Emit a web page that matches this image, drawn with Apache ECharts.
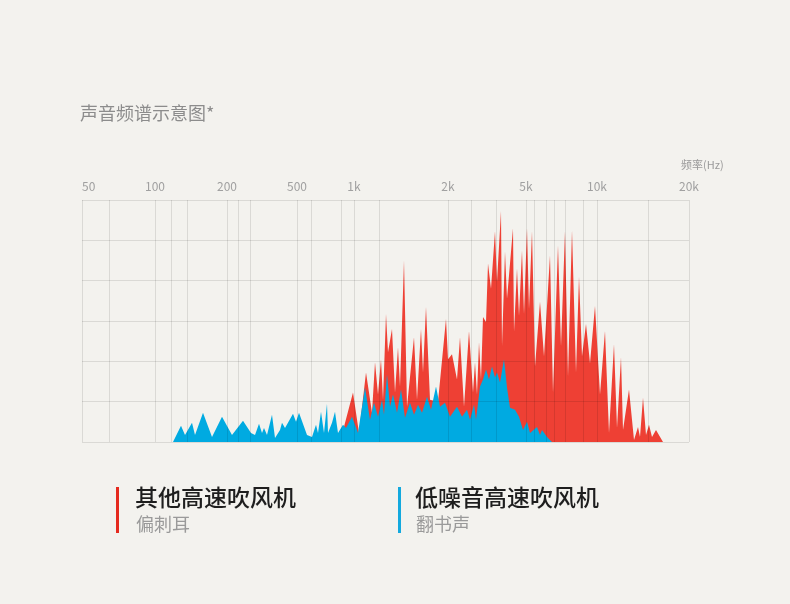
<!DOCTYPE html>
<html>
<head>
<meta charset="utf-8">
<script src="https://cdn.jsdelivr.net/npm/echarts@6/dist/echarts.min.js"></script>
<style>
  html, body { margin: 0; padding: 0; background: #f3f2ee; }
  #chart { width: 790px; height: 604px; }
</style>
</head>
<body>
<div id="chart"></div>
<script>
// position along the band (0 = left edge, 607 = right edge), level above the floor
var tickLabels = ['50', '100', '200', '500', '1k', '2k', '5k', '10k', '20k'];
var tickPos = [0, 73, 145, 215, 272, 366, 444, 515, 607];
var gridPos = [0, 27, 73, 89, 105, 145, 156, 168, 215, 229, 259, 272, 297,
  366, 389, 414, 444, 452, 464, 472, 483, 501, 515, 566, 607];

var seriesNames = ['其他高速吹风机', '低噪音高速吹风机'];
var seriesNotes = ['偏刺耳', '翻书声'];

var redPos = [258, 271, 277, 284, 290, 293, 296, 299, 301, 304, 306, 310, 313, 316, 318,
  322, 325, 332, 335, 339, 341, 344, 348, 356, 364, 366, 370, 375, 378, 382, 387, 391,
  393, 395, 397, 399, 401, 404, 406, 409, 413, 415, 419, 420, 423, 425, 431, 432, 435,
  437, 440, 442, 445, 447, 450, 453, 458, 462, 468, 471, 476, 479, 483, 486, 490, 494,
  497, 500, 504, 508, 513, 518, 523, 527, 532, 535, 539, 541, 547, 552, 556, 558, 561,
  564, 567, 570, 574, 581];
var redLevel = [0, 49, 9, 69, 29, 79, 47, 82, 42, 127, 89, 112, 49, 94, 55,
  180, 35, 104, 42, 112, 69, 134, 42, 40, 122, 82, 87, 62, 104, 35, 110, 49,
  79, 47, 99, 62, 124, 119, 177, 152, 209, 159, 229, 95, 189, 142, 212, 109, 172,
  125, 190, 127, 212, 132, 209, 75, 139, 85, 185, 49, 195, 95, 209, 65, 210, 69,
  164, 85, 117, 78, 135, 47, 110, 9, 97, 14, 84, 12, 52, 2, 15, 5, 44,
  7, 17, 5, 12, 0];

var bluePos = [91, 99, 103, 110, 113, 121, 130, 140, 150, 161, 169, 173, 177, 180, 182,
  185, 190, 193, 198, 200, 203, 211, 214, 217, 225, 230, 234, 236, 239, 242, 245, 246,
  250, 253, 256, 261, 264, 270, 276, 283, 288, 292, 296, 300, 302, 305, 308, 311, 315,
  319, 323, 328, 332, 336, 340, 345, 349, 354, 358, 363, 368, 375, 380, 385, 388, 392,
  394, 398, 401, 404, 407, 410, 413, 415, 418, 422, 425, 428, 433, 437, 441, 445, 448,
  455, 458, 460, 465, 470];
var blueLevel = [0, 16, 7, 19, 7, 29, 5, 25, 7, 21, 9, 7, 18, 9, 14,
  7, 27, 4, 12, 19, 14, 28, 20, 29, 7, 5, 17, 9, 30, 9, 38, 9,
  19, 30, 9, 17, 14, 25, 9, 54, 22, 39, 25, 42, 27, 67, 35, 47, 29,
  52, 24, 39, 27, 37, 29, 45, 32, 55, 35, 39, 25, 35, 25, 32, 22, 37,
  22, 55, 62, 72, 62, 75, 64, 69, 59, 82, 54, 34, 32, 25, 12, 20, 9,
  15, 7, 12, 5, 0];

function pairs(pos, level) {
  return pos.map(function (p, i) { return [p, level[i]]; });
}

var font = '"Noto Sans CJK SC", "Noto Sans", sans-serif';
var red = '#ee4034';
var blue = '#00aae1';

var chart = echarts.init(document.getElementById('chart'));

chart.setOption({
  backgroundColor: '#f3f2ee',
  animation: false,
  textStyle: { fontFamily: font },
  title: {
    text: '声音频谱示意图*',
    left: 80,
    top: 104,
    padding: 0,
    textStyle: { fontSize: 18, fontWeight: 'normal', color: '#8c8c8c', fontFamily: font }
  },
  grid: { left: 82, right: 101, top: 200, bottom: 162 },
  xAxis: {
    type: 'value',
    position: 'top',
    min: 0,
    max: 607,
    z: 10,
    axisLine: { show: false },
    axisTick: { show: false, customValues: gridPos },
    axisLabel: {
      customValues: tickPos,
      formatter: function (v) { return tickLabels[tickPos.indexOf(v)]; },
      color: '#a0a0a0',
      fontSize: 12,
      margin: 8,
      alignMinLabel: 'left',
      alignMaxLabel: 'center'
    },
    splitLine: { show: true, lineStyle: { color: 'rgba(0,0,0,0.1)', width: 1 } }
  },
  yAxis: {
    type: 'value',
    min: 0,
    max: 240,
    interval: 40,
    z: 10,
    axisLine: { show: false },
    axisTick: { show: false },
    axisLabel: { show: false },
    splitLine: { show: true, lineStyle: { color: 'rgba(0,0,0,0.1)', width: 1 } }
  },
  series: [
    {
      name: seriesNames[0],
      type: 'line',
      data: pairs(redPos, redLevel),
      showSymbol: false,
      lineStyle: { width: 0 },
      areaStyle: { color: red, opacity: 1 }
    },
    {
      name: seriesNames[1],
      type: 'line',
      data: pairs(bluePos, blueLevel),
      showSymbol: false,
      lineStyle: { width: 0 },
      areaStyle: { color: blue, opacity: 1 }
    }
  ],
  graphic: [
    {
      type: 'text', left: 681, top: 159,
      style: { text: '频率(Hz)', fill: '#9a9a9a', fontSize: 11, fontFamily: font }
    },
    { type: 'rect', shape: { x: 116, y: 487, width: 3, height: 46 }, style: { fill: '#e52a1e' } },
    {
      type: 'text', x: 135, y: 497,
      style: { text: seriesNames[0], fill: '#1e1e1e', fontSize: 23, fontWeight: 500, fontFamily: font, verticalAlign: 'middle' }
    },
    {
      type: 'text', x: 136, y: 524,
      style: { text: seriesNotes[0], fill: '#9a9a9a', fontSize: 18, fontFamily: font, verticalAlign: 'middle' }
    },
    { type: 'rect', shape: { x: 398, y: 487, width: 3, height: 46 }, style: { fill: '#13a9de' } },
    {
      type: 'text', x: 415, y: 497,
      style: { text: seriesNames[1], fill: '#1e1e1e', fontSize: 23, fontWeight: 500, fontFamily: font, verticalAlign: 'middle' }
    },
    {
      type: 'text', x: 416, y: 524,
      style: { text: seriesNotes[1], fill: '#9a9a9a', fontSize: 18, fontFamily: font, verticalAlign: 'middle' }
    }
  ]
});
</script>
</body>
</html>
